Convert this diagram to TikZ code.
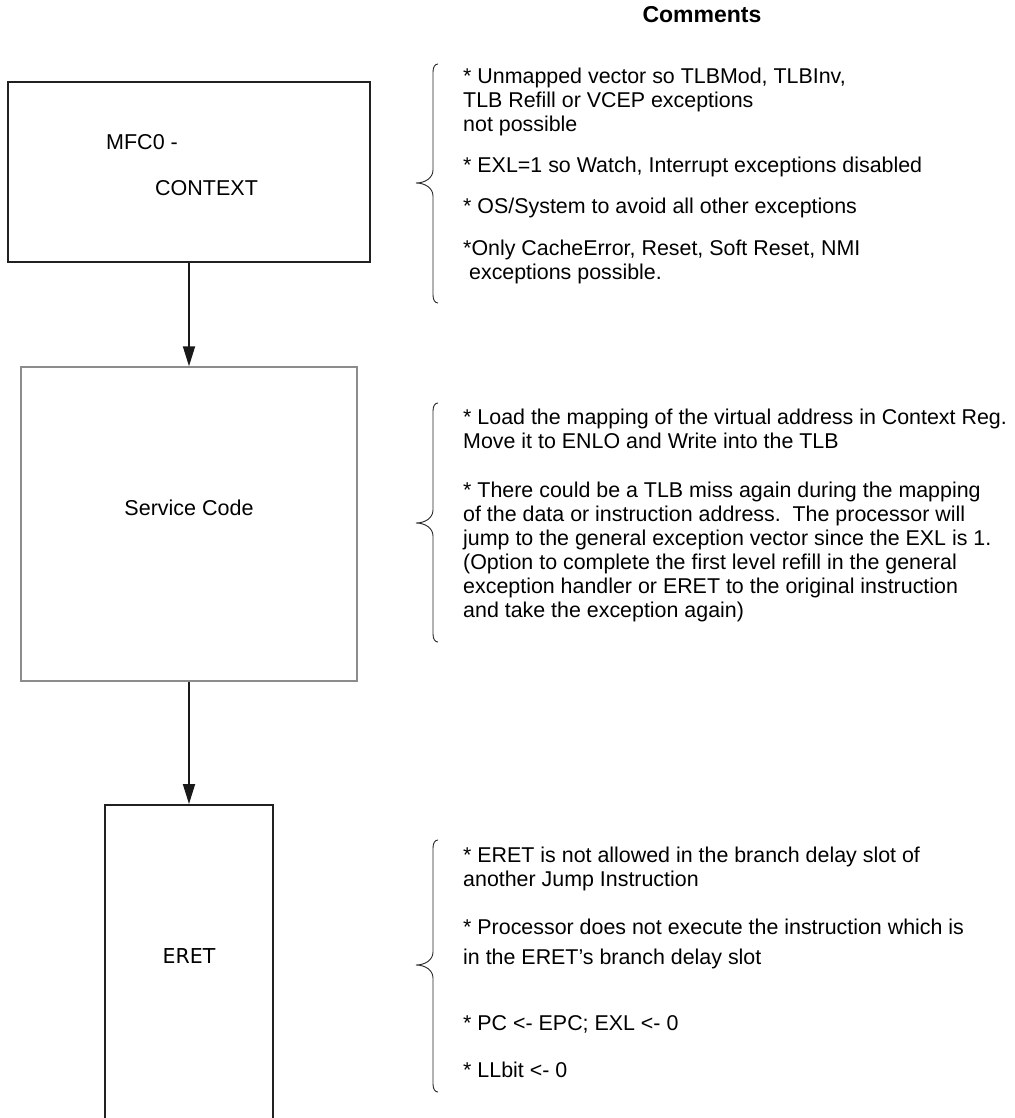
\documentclass[tikz,border=0pt]{standalone}
\usepackage{fontspec}
\setmainfont{Liberation Sans}
\newfontfamily\dejavu{DejaVu Sans}
\usetikzlibrary{arrows.meta}
\newcommand\drawbrace[3]{%
  \draw[brc] (438,#1) .. controls (435,#1) and (433,#1+3) .. (433,#1+8)
    -- (433,#2-13) .. controls (433,#2-5) and (425,#2) .. (416,#2)
    .. controls (425,#2) and (433,#2+5) .. (433,#2+13)
    -- (433,#3-8) .. controls (433,#3-3) and (435,#3) .. (438,#3);}
\begin{document}
\begin{tikzpicture}[x=1pt,y=-1pt,
  box/.style={draw=black!87, line width=2pt, inner sep=0pt},
  graybox/.style={draw=black!45, line width=1.5pt, inner sep=0pt},
  flow/.style={line width=1.8pt, draw=black!90, -{Triangle[length=20pt,width=12pt]}},
  brc/.style={line width=0.9pt, draw=black!85},
  lbl/.style={inner sep=0pt, font=\fontsize{21.5}{24}\selectfont},
  cmt/.style={inner sep=0pt, anchor=base west, font=\fontsize{21.4}{24}\selectfont}]
\useasboundingbox (0,0) rectangle (1014,1118);
% boxes
\node[box, minimum width=362pt, minimum height=180pt] (mfc) at (189,172) {};
\node[graybox, minimum width=336pt, minimum height=314pt] (svc) at (189,524) {};
\node[box, line width=1.8pt, minimum width=168pt, minimum height=340pt, anchor=north] (eret) at (189,804) {};
% box labels
\node[lbl, anchor=west] (t1) at (106,142) {MFC0 -};
\node[lbl, anchor=west] (t2) at (155,188) {CONTEXT};
\node[lbl] (t3) at (189,508) {Service Code};
\node[inner sep=0pt, font=\dejavu\fontsize{20.5}{24}\selectfont] (t4) at (189,956) {ERET};
% connectors
\draw[flow] (mfc.south) -- (svc.north);
\draw[flow] (svc.south) -- (eret.north);
% title
\node[inner sep=0pt, font=\bfseries\fontsize{23}{27}\selectfont] (title) at (702,15) {Comments};
% braces
\drawbrace{64}{183}{303}
\drawbrace{403}{523}{642}
\drawbrace{840}{965}{1092}
% comments
\node[cmt] (c1) at (463,84) {\vtop{%
  \hbox{* Unmapped vector so TLBMod, TLBInv,}
  \hbox{TLB Refill or VCEP exceptions}
  \hbox{not possible}
  \vskip17pt
  \hbox{* EXL=1 so Watch, Interrupt exceptions disabled}
  \vskip17pt
  \hbox{* OS/System to avoid all other exceptions}
  \vskip18pt
  \hbox{*Only CacheError, Reset, Soft Reset, NMI}
  \hbox{\ exceptions possible.}}};
\node[cmt] (c2) at (463,424) {\vtop{%
  \hbox{* Load the mapping of the virtual address in Context Reg.}
  \hbox{Move it to ENLO and Write into the TLB}
  \vskip25pt
  \hbox{* There could be a TLB miss again during the mapping}
  \hbox{of the data or instruction address.\ \ The processor will}
  \hbox{jump to the general exception vector since the EXL is 1.}
  \hbox{(Option to complete the first level refill in the general}
  \hbox{exception handler or ERET to the original instruction}
  \hbox{and take the exception again)}}};
\node[cmt] (c3) at (463,862) {\vtop{%
  \hbox{* ERET is not allowed in the branch delay slot of}
  \hbox{another Jump Instruction}
  \vskip24pt
  \hbox{* Processor does not execute the instruction which is}
  \vskip6pt
  \hbox{in the ERET’s branch delay slot}
  \vskip42pt
  \hbox{* PC <- EPC; EXL <- 0}
  \vskip23pt
  \hbox{* LLbit <- 0}}};
\end{tikzpicture}
\end{document}
